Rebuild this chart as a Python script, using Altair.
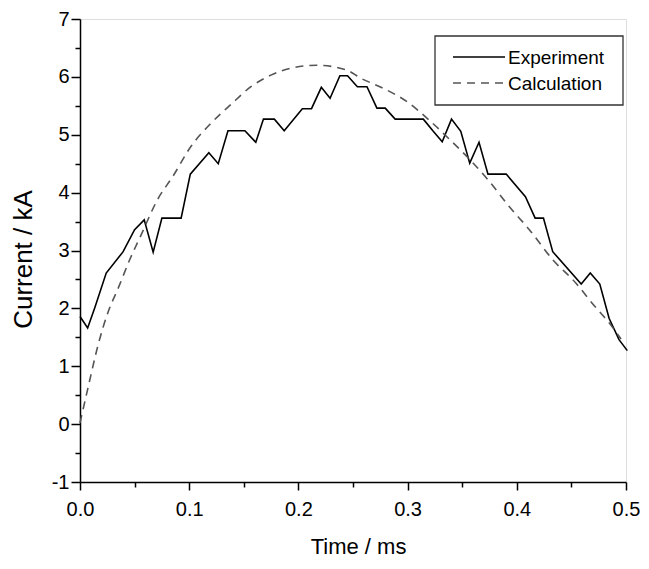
import altair as alt
import pandas as pd

# Experiment (measured) current
exp_t = [0, 0.007, 0.0137, 0.024, 0.0395, 0.05, 0.0588, 0.067, 0.075, 0.0926, 0.101, 0.118,
         0.1266, 0.1355, 0.151, 0.161, 0.168, 0.178, 0.187, 0.2036, 0.212, 0.221, 0.229, 0.238,
         0.245, 0.254, 0.2628, 0.2719, 0.2795, 0.2886, 0.3144, 0.3235, 0.3317, 0.3402, 0.3487,
         0.3569, 0.3654, 0.3736, 0.3903, 0.4079, 0.4168, 0.4244, 0.4329, 0.459, 0.4673, 0.476,
         0.4845, 0.4936, 0.5012]
exp_i = [1.86, 1.66, 2.02, 2.61, 2.98, 3.36, 3.53, 2.97, 3.56, 3.56, 4.32, 4.69,
         4.50, 5.07, 5.07, 4.87, 5.27, 5.27, 5.07, 5.45, 5.45, 5.82, 5.63, 6.02,
         6.02, 5.83, 5.83, 5.46, 5.46, 5.27, 5.27, 5.06, 4.88, 5.27, 5.06,
         4.51, 4.87, 4.32, 4.32, 3.93, 3.56, 3.56, 2.98, 2.42, 2.61, 2.42,
         1.83, 1.46, 1.27]

# Calculated current
calc_t = [0, 0.0076, 0.017, 0.026, 0.035, 0.0455, 0.056, 0.071, 0.085, 0.1017, 0.12, 0.138,
          0.1565, 0.1747, 0.193, 0.217, 0.244, 0.2568, 0.278, 0.2995, 0.3205, 0.339, 0.357,
          0.375, 0.393, 0.4115, 0.4329, 0.454, 0.469, 0.4845, 0.4955]
calc_i = [0.02, 0.65, 1.4, 1.95, 2.35, 2.84, 3.27, 3.88, 4.28, 4.80, 5.2, 5.52,
          5.83, 6.03, 6.15, 6.2, 6.12, 5.98, 5.8, 5.57, 5.24, 4.91, 4.57,
          4.19, 3.76, 3.36, 2.84, 2.44, 2.09, 1.75, 1.47]

series_names = ["Experiment", "Calculation"]
x_major = [0.0, 0.1, 0.2, 0.3, 0.4, 0.5]
x_minor = [0.05, 0.15, 0.25, 0.35, 0.45]
y_major = [-1, 0, 1, 2, 3, 4, 5, 6, 7]
y_minor = [-0.5, 0.5, 1.5, 2.5, 3.5, 4.5, 5.5, 6.5]

FONT = "Liberation Sans"
W, H = 546, 463

df_exp = pd.DataFrame({"t": exp_t, "i": exp_i})
df_calc = pd.DataFrame({"t": calc_t, "i": calc_i})

xscale = alt.Scale(domain=[0, 0.5], nice=False, zero=False)
yscale = alt.Scale(domain=[-1, 7], nice=False, zero=False)

x_axis = alt.Axis(values=x_major, format=".1f", title="Time / ms", tickSize=8,
                  labelPadding=9, labelFontSize=20, labelFont=FONT, labelColor="black",
                  titleFontSize=22, titleFont=FONT, titleFontWeight="normal", titleColor="black",
                  titleX=278, titleY=71, titleBaseline="alphabetic",
                  domainColor="black", domainWidth=1.5, tickColor="black", tickWidth=1.5,
                  grid=False, labelFlush=False)
y_axis = alt.Axis(values=y_major, format="d", title="Current / kA", tickSize=9,
                  labelExpr="datum.value < 0 ? '-' + abs(datum.value) : datum.label",
                  labelPadding=2, labelFontSize=20, labelFont=FONT, labelColor="black",
                  titleFontSize=26, titleFont=FONT, titleFontWeight="normal", titleColor="black",
                  titleX=-49, titleY=240, titleBaseline="alphabetic", titleAngle=270,
                  domainColor="black", domainWidth=1.5, tickColor="black", tickWidth=1.5,
                  grid=False, labelFlush=False)

exp_line = alt.Chart(df_exp).mark_line(color="black", strokeWidth=1.6).encode(
    x=alt.X("t:Q", scale=xscale, axis=x_axis),
    y=alt.Y("i:Q", scale=yscale, axis=y_axis),
)
calc_line = alt.Chart(df_calc).mark_line(color="#555555", strokeWidth=1.6,
                                         strokeDash=[8, 6], interpolate="monotone").encode(
    x=alt.X("t:Q", scale=xscale),
    y=alt.Y("i:Q", scale=yscale),
)
lines = alt.layer(exp_line, calc_line)

minor = alt.Chart(df_exp).mark_point(opacity=0).encode(
    x=alt.X("t:Q", scale=xscale,
            axis=alt.Axis(values=x_minor, orient="bottom", labels=False, title=None, domain=False,
                          tickSize=5, tickColor="black", tickWidth=1.5, grid=False)),
    y=alt.Y("i:Q", scale=yscale,
            axis=alt.Axis(values=y_minor, orient="left", labels=False, title=None, domain=False,
                          tickSize=5, tickColor="black", tickWidth=1.5, grid=False)),
)

one = pd.DataFrame({"k": [0]})
leg_box = alt.Chart(one).mark_rect(fill="white", stroke="#333333", strokeWidth=1.3).encode(
    x=alt.value(355), x2=alt.value(543), y=alt.value(17), y2=alt.value(86))
leg_l1 = alt.Chart(one).mark_rule(color="black", strokeWidth=1.6).encode(
    x=alt.value(373), x2=alt.value(425), y=alt.value(38))
leg_l2 = alt.Chart(one).mark_rule(color="#555555", strokeWidth=1.6, strokeDash=[8, 6]).encode(
    x=alt.value(373), x2=alt.value(425), y=alt.value(64))
leg_t1 = alt.Chart(one).mark_text(align="left", baseline="alphabetic", font=FONT, fontSize=19,
                                  color="black").encode(
    x=alt.value(428), y=alt.value(45), text=alt.value(series_names[0]))
leg_t2 = alt.Chart(one).mark_text(align="left", baseline="alphabetic", font=FONT, fontSize=19,
                                  color="black").encode(
    x=alt.value(428), y=alt.value(71), text=alt.value(series_names[1]))

chart = alt.layer(
    lines, minor, leg_box, leg_l1, leg_l2, leg_t1, leg_t2
).resolve_axis(x="independent", y="independent").properties(
    width=W, height=H,
    autosize=alt.AutoSizeParams(type="none"),
    padding={"left": 72, "top": 11, "right": 15, "bottom": 76},
).configure_view(stroke=None).configure(background="white")

chart.save("out.html", embed_options={"renderer": "svg", "actions": False})
